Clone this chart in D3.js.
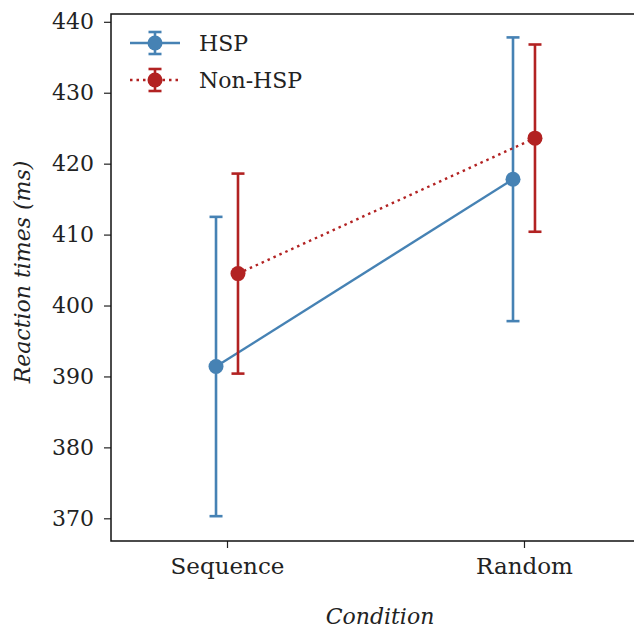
<!DOCTYPE html>
<html>
<head>
<meta charset="utf-8">
<script src="https://cdn.jsdelivr.net/npm/d3@7"></script>
<style>
  html, body { margin: 0; background: #fff; overflow: hidden; }
  svg { display: block; }
  text { font-family: "DejaVu Serif", serif; fill: #222; }
</style>
</head>
<body>
<svg id="chart" width="634" height="629"></svg>
<script>
// data
const conditions = ['Sequence', 'Random'];
const groups = ['HSP', 'Non-HSP'];
const hspMean = [391.4, 417.8];
const hspErr = [21.1, 20.0];
const nonMean = [404.5, 423.6];
const nonErr = [14.1, 13.2];
const yTicks = [370, 380, 390, 400, 410, 420, 430, 440];

const svg = d3.select('#chart');
const mLeft = 111, mRight = 680, mTop = 14, mBottom = 541;

// 0 -> 227px, 1 -> 524px
const x = d3.scaleLinear().domain([-0.3906, 1.5253]).range([mLeft, mRight]);
const y = d3.scaleLinear().domain([366.8, 441.1]).range([mBottom, mTop]);
const dodge = 0.037;
const fs = '22px';

const series = [
  { name: groups[0], mean: hspMean, err: hspErr, color: '#4682b4', off: -dodge, dash: null },
  { name: groups[1], mean: nonMean, err: nonErr, color: '#b22222', off: dodge, dash: '2.5,4' }
];

// axes
const yAxis = d3.axisLeft(y).tickValues(yTicks).tickSize(7).tickPadding(10).tickFormat(d3.format('d'));
const gy = svg.append('g').attr('transform', 'translate(' + mLeft + ',0)').call(yAxis);
gy.select('.domain').remove();
gy.selectAll('text').style('font-size', fs).attr('fill', '#222');
gy.selectAll('line').attr('stroke', '#222').attr('stroke-width', 1.2);

const xAxis = d3.axisBottom(x).tickValues([0, 1]).tickSize(7).tickPadding(10)
  .tickFormat(function(d) { return conditions[d]; });
const gx = svg.append('g').attr('transform', 'translate(0,' + mBottom + ')').call(xAxis);
gx.select('.domain').remove();
gx.selectAll('text').style('font-size', '23px').attr('fill', '#222');
gx.selectAll('line').attr('stroke', '#222').attr('stroke-width', 1.2);

// frame (right side runs off the picture)
svg.append('path')
  .attr('d', 'M' + mRight + ',' + mTop + 'H' + mLeft + 'V' + mBottom + 'H' + mRight)
  .attr('fill', 'none').attr('stroke', '#111').attr('stroke-width', 1.5);

// labels
svg.append('text')
  .attr('transform', 'translate(30,272) rotate(-90)')
  .attr('text-anchor', 'middle')
  .style('font-size', fs).style('font-style', 'italic')
  .text('Reaction times (ms)');

svg.append('text')
  .attr('x', 380).attr('y', 624)
  .attr('text-anchor', 'middle')
  .style('font-size', fs).style('font-style', 'italic')
  .text('Condition');

// series
series.forEach(function(s) {
  const g = svg.append('g');
  const pts = s.mean.map(function(m, i) { return { i: i, m: m, e: s.err[i] }; });

  g.append('path')
    .datum(pts)
    .attr('fill', 'none')
    .attr('stroke', s.color)
    .attr('stroke-width', 2.4)
    .attr('stroke-dasharray', s.dash)
    .attr('d', d3.line().x(function(d) { return x(d.i + s.off); }).y(function(d) { return y(d.m); }));

  const eb = g.selectAll('.eb').data(pts).enter().append('g');
  eb.append('line')
    .attr('x1', function(d) { return x(d.i + s.off); })
    .attr('x2', function(d) { return x(d.i + s.off); })
    .attr('y1', function(d) { return y(d.m - d.e); })
    .attr('y2', function(d) { return y(d.m + d.e); })
    .attr('stroke', s.color).attr('stroke-width', 2.6);
  [-1, 1].forEach(function(sign) {
    eb.append('line')
      .attr('x1', function(d) { return x(d.i + s.off) - 6.5; })
      .attr('x2', function(d) { return x(d.i + s.off) + 6.5; })
      .attr('y1', function(d) { return y(d.m + sign * d.e); })
      .attr('y2', function(d) { return y(d.m + sign * d.e); })
      .attr('stroke', s.color).attr('stroke-width', 2.6);
  });
  eb.append('circle')
    .attr('cx', function(d) { return x(d.i + s.off); })
    .attr('cy', function(d) { return y(d.m); })
    .attr('r', 7.5)
    .attr('fill', s.color);
});

// legend
const legend = svg.append('g');
series.forEach(function(s, i) {
  const ly = 43 + i * 37;
  legend.append('line')
    .attr('x1', 130).attr('x2', 180).attr('y1', ly).attr('y2', ly)
    .attr('stroke', s.color).attr('stroke-width', 2.4)
    .attr('stroke-dasharray', s.dash);
  legend.append('line')
    .attr('x1', 155).attr('x2', 155).attr('y1', ly - 11).attr('y2', ly + 11)
    .attr('stroke', s.color).attr('stroke-width', 2.6);
  [-11, 11].forEach(function(dy) {
    legend.append('line')
      .attr('x1', 148.5).attr('x2', 161.5).attr('y1', ly + dy).attr('y2', ly + dy)
      .attr('stroke', s.color).attr('stroke-width', 2.6);
  });
  legend.append('circle').attr('cx', 155).attr('cy', ly).attr('r', 7.5).attr('fill', s.color);
  legend.append('text')
    .attr('x', 199).attr('y', ly + 8)
    .style('font-size', fs)
    .text(s.name);
});
</script>
</body>
</html>
